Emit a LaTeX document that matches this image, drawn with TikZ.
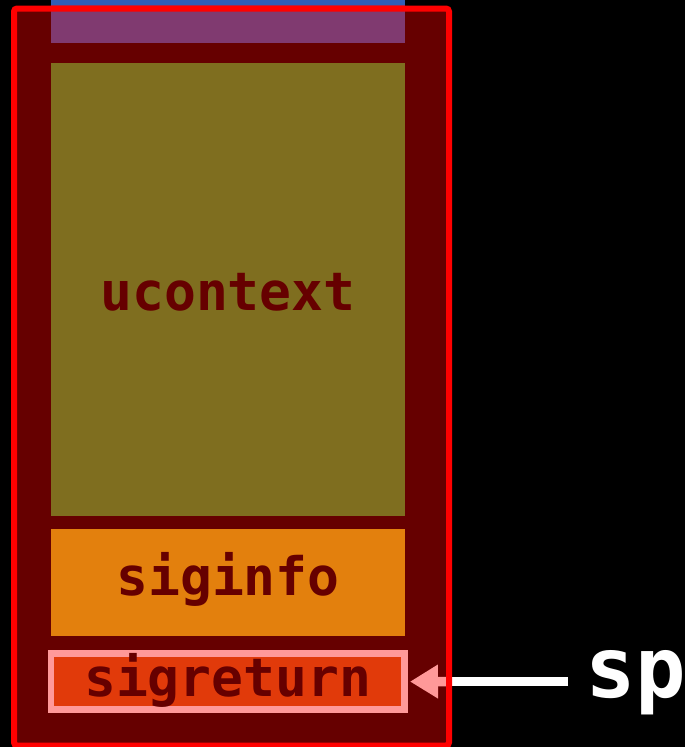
\documentclass[tikz,border=0pt]{standalone}
\usepackage{fontspec}
\setmonofont{DejaVu Sans Mono}
\usetikzlibrary{arrows.meta}

\definecolor{framefill}{HTML}{660000}
\definecolor{framered}{HTML}{FF0000}
\definecolor{stackblue}{HTML}{2F5EB6}
\definecolor{stackpurple}{HTML}{803A70}
\definecolor{ctxolive}{HTML}{7F6E1F}
\definecolor{infoorange}{HTML}{E3800D}
\definecolor{retred}{HTML}{E13A0A}
\definecolor{retpink}{HTML}{FF9999}

\begin{document}
\begin{tikzpicture}[x=1pt, y=-1pt,
  frame/.style={fill=framefill, draw=none, inner sep=0pt, outer sep=0pt,
    minimum width=435pt, minimum height=737pt},
  block/.style={draw=none, inner sep=0pt, outer sep=0pt, minimum width=354pt,
    text depth=0pt,
    font=\ttfamily\bfseries\fontsize{53}{60}\selectfont, text=framefill},
  pointer/.style={line width=9.5pt},
]
\useasboundingbox (0,0) rectangle (685,747);
\fill[black] (0,0) rectangle (685,747);

% signal frame on the stack
\node[frame] (frame) at (231.5,377) {};

% frame contents, top to bottom
\node[block, fill=stackblue,   minimum height=30pt]  (prev)    at (228,-10)   {};
\node[block, fill=stackpurple, minimum height=38pt]  (extra)   at (228,24)    {};
\node[block, fill=ctxolive,    minimum height=453pt, text height=41pt]
  (ucontext) at (228,289.5) {ucontext};
\node[block, fill=infoorange,  minimum height=107pt, text height=26pt]
  (siginfo) at (228,582.5) {siginfo};
\node[block, fill=retred, draw=retpink, line width=6.5pt, outer sep=3.25pt,
  minimum width=353.5pt, minimum height=56pt, text height=29pt]
  (sigret) at (227.75,681.6) {sigreturn};

% stack pointer
\node[anchor=base west, text=white, inner sep=0pt,
  font=\ttfamily\bfseries\fontsize{84}{94}\selectfont] (sp) at (585,697) {sp};
\coordinate (tail) at (568,681.5);
\coordinate (edge) at (449,681.5);
\draw[pointer, white] (tail) -- (edge);
\draw[pointer, retpink, -{Triangle[length=28pt,width=32pt]}, shorten >=2.25pt]
  (edge) -- (sigret.east);

% frame outline on top
\draw[framered, line width=6pt, rounded corners=3pt]
  (frame.north west) rectangle (frame.south east);
\end{tikzpicture}
\end{document}
